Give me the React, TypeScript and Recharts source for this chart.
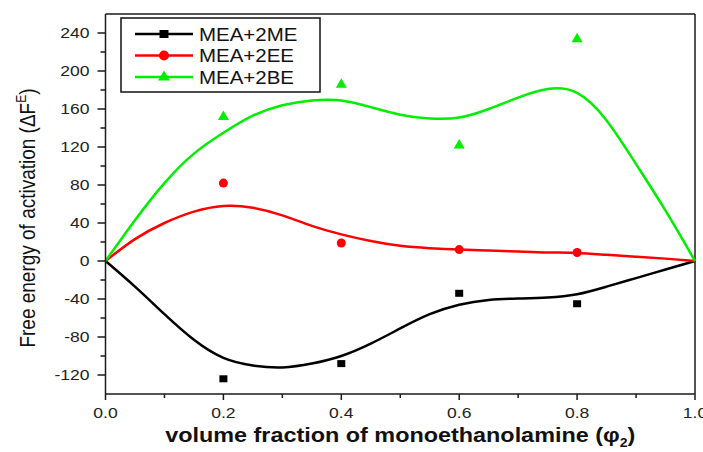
import React from 'react';
import { ComposedChart, Line, Scatter, XAxis, YAxis, ReferenceLine } from 'recharts';

// fitted curves, sampled every 0.05 of the volume fraction
const fractions = [0, 0.05, 0.1, 0.15, 0.2, 0.25, 0.3, 0.35, 0.4, 0.45, 0.5, 0.55, 0.6, 0.65, 0.7, 0.75, 0.8, 0.85, 0.9, 0.95, 1];
const fitME = [0, -27, -56, -83, -102, -110, -112, -108, -100, -87, -71, -56, -46, -41, -39.5, -38.5, -35, -27, -18, -9, 0];
const fitEE = [0, 23, 40, 52, 58, 56, 48, 37, 28, 21, 16, 13.5, 12, 11, 10, 9, 8.5, 6.5, 4.5, 2.5, 0];
const fitBE = [0, 43, 82, 113, 135, 153, 164, 169, 169, 162, 154, 150, 151, 160, 172, 181, 177, 148, 102, 53, 0];

// measured points
const measuredX = [0.2, 0.4, 0.6, 0.8];
const measuredME = [-124, -108, -34, -45];
const measuredEE = [82, 19, 12, 9];
const measuredBE = [152, 186, 122, 234];

const xTicks = [0, 0.1, 0.2, 0.3, 0.4, 0.5, 0.6, 0.7, 0.8, 0.9, 1];
const yTicks = [-120, -100, -80, -60, -40, -20, 0, 20, 40, 60, 80, 100, 120, 140, 160, 180, 200, 220, 240];

const seriesNames = ['MEA+2ME', 'MEA+2EE', 'MEA+2BE'];
const seriesColors = ['#000000', '#ff0000', '#00ee00'];

const FONT = '"Liberation Sans", Arial, sans-serif';
const STRETCH = 1.17;
const AXIS = '#1a1a1a';

const toPoints = (xs: number[], ys: number[]) => xs.map((x, i) => ({ x, y: ys[i] }));

const SquareDot = (props: any) => {
  const { cx, cy, fill } = props;
  return <rect x={cx - 4} y={cy - 3.5} width={8} height={7} fill={fill} />;
};
const CircleDot = (props: any) => {
  const { cx, cy, fill } = props;
  return <circle cx={cx} cy={cy} r={4.5} fill={fill} />;
};
const TriangleDot = (props: any) => {
  const { cx, cy, fill } = props;
  return <polygon points={`${cx},${cy - 6} ${cx - 5.5},${cy + 3.5} ${cx + 5.5},${cy + 3.5}`} fill={fill} />;
};

const XTick = (props: any) => {
  const { x, y, payload } = props;
  const v = payload.value as number;
  const major = Math.round(v * 10) % 2 === 0;
  return (
    <g>
      <line x1={x} y1={y} x2={x} y2={y + (major ? 6 : 4)} stroke={AXIS} strokeWidth={1.5} />
      {major && (
        <text
          transform={`translate(${x},${y + 24}) scale(${STRETCH},1)`}
          textAnchor="middle"
          fontFamily={FONT}
          fontSize={15}
          fill="#222"
        >
          {v.toFixed(1)}
        </text>
      )}
    </g>
  );
};

const YTick = (props: any) => {
  const { x, y, payload } = props;
  const v = payload.value as number;
  const major = v % 40 === 0;
  return (
    <g>
      <line x1={x} y1={y} x2={x - (major ? 8 : 5)} y2={y} stroke={AXIS} strokeWidth={1.5} />
      {major && (
        <text
          transform={`translate(${x - 16},${y + 5}) scale(${STRETCH},1)`}
          textAnchor="end"
          fontFamily={FONT}
          fontSize={15}
          fill="#222"
        >
          {v}
        </text>
      )}
    </g>
  );
};

const XTitle = (props: any) => {
  const vb = props.viewBox;
  const cx = vb.x + vb.width / 2;
  return (
    <text
      transform={`translate(${cx},${vb.y + 48}) scale(${STRETCH},1)`}
      textAnchor="middle"
      fontFamily={FONT}
      fontWeight="bold"
      fontSize={20}
      fill="#111"
    >
      volume fraction of monoethanolamine (φ
      <tspan fontSize={12} dy={5}>2</tspan>
      <tspan dy={-5}>)</tspan>
    </text>
  );
};

const YTitle = (props: any) => {
  const vb = props.viewBox;
  const cy = vb.y + vb.height / 2 + 14;
  return (
    <text
      transform={`translate(35,${cy}) scale(${STRETCH},1) rotate(-90)`}
      textAnchor="middle"
      fontFamily={FONT}
      fontSize={19}
      fill="#111"
    >
      Free energy of activation (ΔF
      <tspan fontSize={12} dy={-8}>E</tspan>
      <tspan dy={8}>)</tspan>
    </text>
  );
};

function LegendBox() {
  const markers = [
    (cx: number, cy: number, c: string) => <rect x={cx - 4.5} y={cy - 4} width={9} height={8} fill={c} />,
    (cx: number, cy: number, c: string) => <circle cx={cx} cy={cy} r={5} fill={c} />,
    (cx: number, cy: number, c: string) => (
      <polygon points={`${cx},${cy - 6.5} ${cx - 6},${cy + 3.5} ${cx + 6},${cy + 3.5}`} fill={c} />
    ),
  ];
  const rows = [34, 55.5, 77];
  return (
    <g>
      <rect x={121} y={18} width={199} height={74} fill="#fff" stroke="#111" strokeWidth={1.5} />
      {seriesNames.map((name, i) => (
        <g key={name}>
          <line x1={135} y1={rows[i]} x2={193} y2={rows[i]} stroke={seriesColors[i]} strokeWidth={2.5} />
          {markers[i](164, rows[i], seriesColors[i])}
          <text
            transform={`translate(199,${rows[i] + 6.5}) scale(${STRETCH},1)`}
            fontFamily={FONT}
            fontSize={17.5}
            fill="#111"
          >
            {name}
          </text>
        </g>
      ))}
    </g>
  );
}

export default function App() {
  const fits = [fitME, fitEE, fitBE];
  const measured = [measuredME, measuredEE, measuredBE];
  const shapes = [SquareDot, CircleDot, TriangleDot];

  return (
    <div style={{ position: 'absolute', left: 0, top: 0, width: 703, height: 452, background: '#fff' }}>
      <ComposedChart width={703} height={452} margin={{ top: 14, right: 8, bottom: 0, left: 0 }}>
        <XAxis
          type="number"
          dataKey="x"
          domain={[0, 1]}
          ticks={xTicks}
          interval={0}
          height={58}
          tickSize={0}
          tickMargin={0}
          tickLine={false}
          tick={<XTick />}
          axisLine={{ stroke: AXIS, strokeWidth: 1.5 }}
          label={<XTitle />}
        />
        <YAxis
          type="number"
          dataKey="y"
          domain={[-140, 260]}
          ticks={yTicks}
          interval={0}
          width={105.5}
          tickSize={0}
          tickMargin={0}
          tickLine={false}
          tick={<YTick />}
          axisLine={{ stroke: AXIS, strokeWidth: 1.5 }}
          label={<YTitle />}
        />
        <ReferenceLine y={260} stroke={AXIS} strokeWidth={1.5} />
        <ReferenceLine x={1} stroke={AXIS} strokeWidth={1.5} />
        {fits.map((ys, i) => (
          <Line
            key={`fit-${i}`}
            data={toPoints(fractions, ys)}
            dataKey="y"
            type="natural"
            stroke={seriesColors[i]}
            strokeWidth={2.5}
            dot={false}
            activeDot={false}
            isAnimationActive={false}
          />
        ))}
        {measured.map((ys, i) => (
          <Scatter
            key={`pts-${i}`}
            data={toPoints(measuredX, ys)}
            dataKey="y"
            fill={seriesColors[i]}
            shape={shapes[i]}
            isAnimationActive={false}
          />
        ))}
      </ComposedChart>
      <svg width={703} height={452} style={{ position: 'absolute', left: 0, top: 0, pointerEvents: 'none' }}>
        <LegendBox />
      </svg>
    </div>
  );
}
